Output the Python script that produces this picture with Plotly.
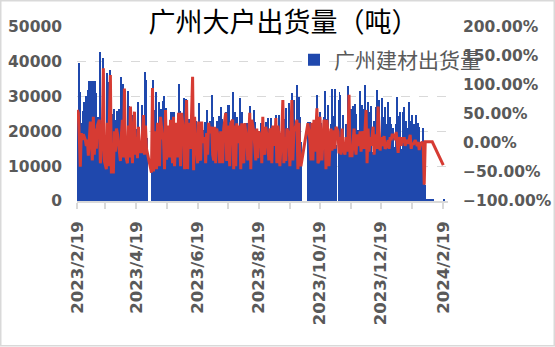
import plotly.graph_objects as go
import pandas as pd

# ---------------- data ----------------
title_text = "广州大户出货量（吨）"
bar_name = "广州建材出货量"

first_day = "2023-02-19"
first_bar = 26100
first_pct = 0.57

week_start = "2023-02-20"   # Monday of first full week; each week: Mon..Sat, Sunday has no data
bars_weeks = [
    [39800, 31400, 22300, 15000, 25900, 28400],
    [30200, 16000, 32000, 34600, 14500, 34500],
    [34600, 13800, 34500, 30900, 12500, 24000],
    [42800, 17500, 15000, 41000, 20500, 13500],
    [36700, 12000, 34300, 37600, 10500, 25000],
    [26500, 13500, 23300, 25900, 11800, 26500],
    [35700, 15000, 33500, 26200, 31600, 14000],
    [31600, 27300, 12500, 24700, 24700, 13000],
    [21900, 20800, 15500, 28500, 19500, 16500],
    [27700, 14500, 22000, 37200, 34800, 18000],
    [None, None, None, 17500, 34800, 26200],
    [31300, 15500, 22000, 28500, 14500, 26500],
    [28600, 30200, 14500, 26800, 12800, 19000],
    [14500, 25700, 25700, 16000, 25700, 13500],
    [20500, 15000, 33600, 26000, 13500, 24500],
    [29700, 14000, 29300, 28600, 12500, 23500],
    [22000, 32200, 27000, 11500, 24000, 23000],
    [15500, 28100, 19500, 13500, 21800, 20500],
    [22800, 14500, 26200, 20000, 15000, 23000],
    [30500, 24200, 16000, 21000, 13500, 23000],
    [24500, 15000, 27100, 23500, 14000, 21000],
    [25700, 14500, 27600, 27600, 15500, 22000],
    [31200, 16000, 25700, 14000, 24200, 20000],
    [29500, 13500, 25700, 21000, 13500, 22300],
    [22300, 15000, 20500, 27300, 14500, 21000],
    [26200, 22800, 13500, 19500, 15500, 20000],
    [22300, 14000, 23800, 19000, 15500, 22800],
    [23800, 15000, 19500, 23800, 14500, 20500],
    [19000, 24700, 15500, 21500, 24700, 14500],
    [21000, 15000, 23500, 16000, 26800, 21000],
    [28100, 14500, 24000, 30900, 16000, 29000],
    [22000, 33300, 15500, 30000, 24000, 17000],
    [None, None, None, None, None, 22600],
    [22600, 15500, 21500, 14500, 21000, 18000],
    [30500, 20900, 13500, 25700, 22300, 14500],
    [24000, 31600, 14000, 23500, 27500, 15000],
    [22000, 32200, 15500, 24500, 32200, 16000],
    [29000, 31400, 30400, 15000, 24700, 14500],
    [22000, 15500, 33000, 30400, 14500, 26500],
    [27300, 14000, 28000, 25000, 15500, 20500],
    [31600, 14500, 27500, 26500, 15000, 33300],
    [15500, 28500, 16000, 25500, 27200, 14000],
    [23000, 14500, 27000, 31800, 15500, 29000],
    [15000, 29500, 24000, 13500, 27100, 22000],
    [28500, 15000, 24200, 22000, 14500, 21000],
    [15500, 22000, 29800, 14500, 24500, 25700],
    [15000, 25700, 27100, 14000, 23000, 21000],
    [28500, 15500, 23000, 24700, 13500, 22000],
    [24700, 20000, 22500, 21300, 17000, 16700],
    [21000, 16000, 4700, 500, 500, 500],
    [500, 500, 500, 500, None, None],
    [None, None, None, None, None, None],
]
pct_weeks = [
    [0.52, 0.10, -0.41, 0.17, 0.05, 0.15],
    [0.06, -0.05, 0.06, -0.22, 0.12, 0.37],
    [-0.30, 0.45, -0.20, 0.25, -0.10, 0.30],
    [0.40, -0.35, -0.10, 0.20, 1.29, -0.31],
    [-0.45, 0.35, -0.40, 0.30, 1.17, -0.50],
    [-0.50, 0.20, -0.15, 0.25, 0.17, 0.00],
    [-0.31, 0.15, 0.40, -0.25, 0.94, -0.20],
    [-0.35, 0.30, -0.25, 0.63, -0.10, -0.35],
    [0.54, -0.20, 0.10, -0.26, 0.28, -0.15],
    [-0.15, 0.23, 0.48, -0.20, 0.30, -0.10],
    [None, None, None, -0.51, 0.95, -0.49],
    [0.20, -0.45, 0.35, 0.25, -0.40, 0.45],
    [0.10, 0.05, -0.45, 0.57, -0.29, 0.30],
    [-0.25, 0.40, 0.00, -0.35, 0.45, -0.40],
    [0.35, -0.25, 0.52, -0.20, -0.40, 0.52],
    [0.20, -0.45, 0.40, 0.74, -0.45, 0.35],
    [-0.10, 0.40, 1.14, -0.47, 0.45, 0.05],
    [-0.35, 0.37, -0.25, -0.30, 0.37, 0.00],
    [0.10, -0.35, 0.17, -0.20, 0.35, 0.17],
    [0.28, -0.20, -0.30, 0.28, -0.35, 0.25],
    [0.05, -0.35, 0.20, 0.10, -0.35, 0.25],
    [0.52, -0.31, 0.30, 0.05, -0.40, 0.34],
    [0.40, -0.45, 0.30, -0.40, 0.34, 0.00],
    [0.30, -0.45, 0.34, -0.15, -0.35, 0.34],
    [0.05, -0.30, 0.30, 0.52, -0.45, 0.40],
    [0.20, -0.10, -0.30, 0.25, -0.26, 0.20],
    [0.10, -0.35, 0.45, -0.15, -0.20, 0.28],
    [0.00, -0.30, 0.25, 0.20, -0.35, 0.30],
    [-0.05, 0.43, -0.35, 0.30, 0.15, -0.40],
    [0.20, 0.74, -0.35, 0.10, -0.31, 0.25],
    [0.15, -0.40, 0.45, 0.74, -0.30, 0.20],
    [0.30, 0.40, -0.45, 0.35, -0.20, -0.40],
    [None, None, None, None, None, 0.34],
    [0.05, -0.30, 0.35, -0.30, 0.40, -0.15],
    [0.60, -0.35, -0.30, 0.45, -0.10, -0.30],
    [0.40, 0.35, -0.45, 0.40, 0.15, -0.40],
    [0.25, -0.13, 0.05, 0.22, -0.10, 0.28],
    [0.20, -0.18, 0.10, -0.20, 0.25, -0.10],
    [-0.20, 0.10, -0.15, 0.05, 0.83, -0.22],
    [-0.22, 0.10, 0.25, -0.05, -0.20, 0.15],
    [-0.05, 0.20, -0.15, 0.15, 0.20, -0.10],
    [0.57, -0.35, 0.25, -0.15, 0.10, -0.05],
    [0.28, -0.20, -0.05, 0.15, -0.10, 0.63],
    [-0.13, 0.10, -0.05, 0.00, 0.12, -0.10],
    [-0.03, 0.05, -0.10, 0.10, 0.05, 0.14],
    [0.14, 0.05, 0.19, 0.05, -0.17, 0.10],
    [-0.05, 0.10, 0.00, 0.10, -0.05, 0.05],
    [-0.01, 0.05, 0.14, -0.10, 0.00, -0.03],
    [0.05, 0.00, -0.05, 0.02, -0.12, -0.03],
    [0.02, -0.05, -0.72, 0.02, 0.02, 0.02],
    [0.02, 0.02, 0.02, 0.02, None, None],
    [None, None, None, None, None, None],
]
last_day = "2024-02-19"
last_bar = 300
last_pct = -0.38

tick_dates = ["2023-02-19", "2023-03-19", "2023-04-19", "2023-05-19", "2023-06-19",
              "2023-07-19", "2023-08-19", "2023-09-19", "2023-10-19", "2023-11-19",
              "2023-12-19", "2024-01-19", "2024-02-19"]
tick_labels = ["2023/2/19", "", "2023/4/19", "", "2023/6/19", "", "2023/8/19", "",
               "2023/10/19", "", "2023/12/19", "", "2024/2/19"]

# ---------------- assemble daily series ----------------
dates, bars, pcts = [pd.Timestamp(first_day)], [first_bar], [first_pct]
start = pd.Timestamp(week_start)
for k, (bw, pw) in enumerate(zip(bars_weeks, pct_weeks)):
    for j in range(6):
        d = start + pd.Timedelta(days=7 * k + j)
        dates.append(d)
        bars.append(bw[j])
        pcts.append(pw[j])
dates.append(pd.Timestamp(last_day)); bars.append(last_bar); pcts.append(last_pct)

day_ms = 86400000
BLUE = "#1f48ad"
RED = "#d63b33"
GREY_TXT = "#595959"
GRID = "#d9d9d9"
tick_font = dict(family="DejaVu Sans", size=15.5, color=GREY_TXT, weight="bold")

# plot-area geometry in pixels (used to place legend/title/border)
L, R, T, B = 77, 448, 27, 201
PW, PH = R - L, B - T

fig = go.Figure()
fig.add_trace(go.Bar(x=dates, y=bars, name=bar_name, marker=dict(color=BLUE, line=dict(width=0)),
                     width=day_ms, offset=0, yaxis="y"))
fig.add_trace(go.Scatter(x=dates, y=pcts, mode="lines", line=dict(color=RED, width=3),
                         connectgaps=True, showlegend=False, yaxis="y2"))

fig.update_layout(
    width=555, height=347,
    margin=dict(l=L, r=555 - R, t=T, b=347 - B, autoexpand=False),
    paper_bgcolor="white", plot_bgcolor="white",
    bargap=0,
    title=dict(text=title_text, x=283.5 / 555, xref="container", xanchor="center",
               y=1 - 23 / 347, yref="container", yanchor="middle", automargin=False,
               font=dict(family="Noto Sans CJK SC", size=27, color="#000000")),
    xaxis=dict(type="date", range=["2023-02-18 17:00", "2024-02-23 17:00"],
               tickvals=tick_dates, ticktext=tick_labels, tickangle=-90,
               ticks="outside", ticklen=6, tickcolor=GRID, tickwidth=1.5,
               showline=True, linecolor=GRID, linewidth=1.5, showgrid=False,
               tickfont=dict(family="DejaVu Sans", size=16.5, color=GREY_TXT, weight="bold"),
               ticklabelstandoff=6, automargin=False),
    yaxis=dict(range=[0, 50000], dtick=10000, tickformat="d", showgrid=True,
               gridcolor=GRID, griddash="dash", gridwidth=1, zeroline=False,
               tickfont=tick_font, ticklabelstandoff=14, automargin=False),
    yaxis2=dict(range=[-1, 2], dtick=0.5, tickformat=".2%", overlaying="y", side="right",
                showgrid=False, zeroline=False, tickfont=tick_font, ticklabelstandoff=14,
                automargin=False),
    legend=dict(x=(294 - L) / PW, xanchor="left", y=(B - 60) / PH, yanchor="middle",
                bgcolor="rgba(0,0,0,0)",
                font=dict(family="Noto Sans CJK SC", size=21, color=GREY_TXT)),
    shapes=[dict(type="rect", xref="paper", yref="paper",
                 x0=(0.75 - L) / PW, x1=(554.25 - L) / PW,
                 y0=(B - 345.75) / PH, y1=(B - 0.75) / PH,
                 line=dict(color=GRID, width=1.5), fillcolor="rgba(0,0,0,0)", layer="below")],
)

fig.write_html("out.html")
